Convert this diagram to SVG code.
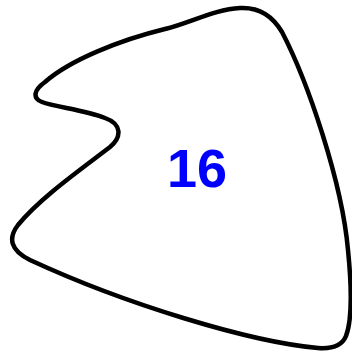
<svg xmlns="http://www.w3.org/2000/svg" width="352" height="352" viewBox="0 0 352 352">
<style>
.blob{fill:#fff;stroke:#000;stroke-width:4.5;stroke-linejoin:round}
.lbl{font-family:"Liberation Sans",Arial,sans-serif;font-weight:bold;font-size:54px;fill:#0000ff;text-anchor:middle}
</style>
<rect width="352" height="352" fill="#fff"/>
<g id="node16">
<path class="blob" d="M 240 8 C 258 7, 272 15, 282 32 C 308 82, 342 182, 348 250 C 352 290, 352 320, 346 336 C 342 346, 332 349, 318 348 C 250 342, 125 304, 30 260 C 10 250, 8 238, 18 225 C 40 198, 80 170, 110 147 C 122 137, 122 124, 105 118 C 85 110, 55 107, 42 102 C 32 98, 34 90, 45 82 C 70 60, 120 40, 165 29 C 190 23, 215 9, 240 8 Z"/>
<text class="lbl" x="197" y="187">16</text>
</g>
</svg>
